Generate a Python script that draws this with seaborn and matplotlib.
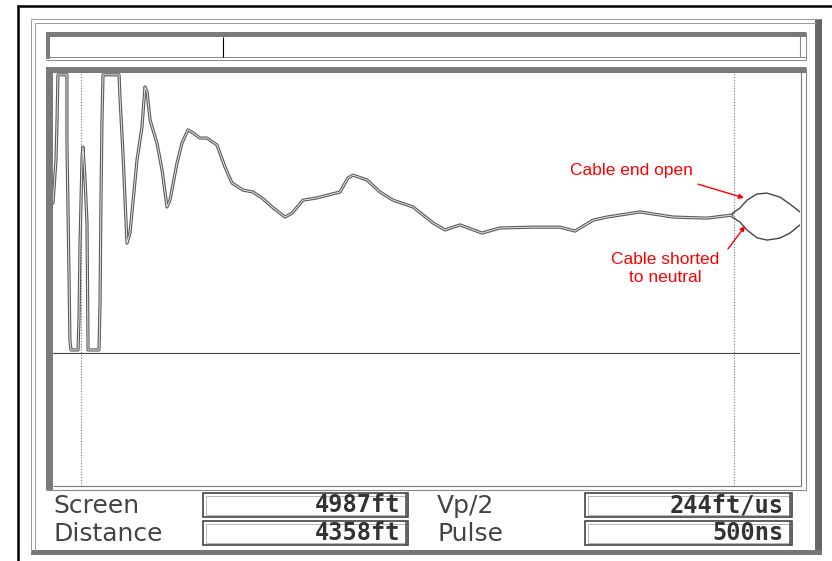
import numpy as np
import pandas as pd
import matplotlib
matplotlib.use('Agg')
import matplotlib.pyplot as plt
import seaborn as sns
from matplotlib.patches import Rectangle

sns.set_theme(style='white')
plt.rcParams['font.family'] = ['DejaVu Sans']

# ---------------- data ----------------
distance_ft = [0, 20, 27, 33, 93, 93, 107, 113, 120, 167, 174, 180, 194, 200, 214, 227, 234,
               307, 314, 320, 327, 334, 441, 447, 467, 481, 494, 514, 561, 594, 614, 628, 648,
               694, 728, 761, 781, 828, 861, 901, 935, 981, 1028, 1095, 1148, 1195, 1268, 1335,
               1395, 1462, 1549, 1596, 1669, 1762, 1916, 1969, 2003, 2096, 2183, 2270, 2403,
               2537, 2617, 2717, 2864, 2984, 3204, 3385, 3485, 3605, 3699, 3919, 4139, 4366, 4533]
amplitude = [53.4, 68.7, 82.9, 99, 99, 75.8, 27.0, 4.6, 1.1, 1.1, 12.8, 37.7, 69.8, 73.3, 61.6,
             46.3, 1.1, 1.1, 17.8, 53.4, 82.9, 99, 99, 91.1, 71.2, 54.4, 39.1, 42.7, 68.7, 80.4,
             94.7, 92.9, 82.9, 74.7, 65.1, 52.0, 54.4, 67.6, 74.7, 79.4, 78.3, 76.5, 76.5, 74.0,
             66.2, 60.5, 58.0, 57.3, 55.2, 52.0, 48.4, 49.8, 54.4, 55.2, 57.3, 62.3, 63.3, 61.6,
             57.3, 54.4, 52.0, 46.3, 43.8, 45.6, 42.7, 44.5, 44.8, 44.8, 43.4, 47.3, 48.4, 50.2,
             48.4, 48.0, 49.1]
end_ft = [4533, 4586, 4633, 4700, 4767, 4853, 4920, 4987]
end_open = [49.6, 51.6, 54.4, 56.6, 56.9, 55.5, 53.0, 50.2]
end_shorted = [48.4, 46.6, 43.8, 41.0, 40.2, 40.9, 42.7, 45.6]
cursor_ft = [187, 4545]

labels = ['Screen', 'Distance', 'Vp/2', 'Pulse']
values = ['4987ft', '4358ft', '244ft/us', '500ns']
note_open = 'Cable end open'
note_short = 'Cable shorted\nto neutral'

SCREEN_FT = 4987

# ---------------- figure ----------------
W, H = 832, 561
fig = plt.figure(figsize=(W / 100, H / 100), dpi=100)
fig.patch.set_facecolor('white')

bg = fig.add_axes([0, 0, 1, 1])
bg.set_xlim(0, W)
bg.set_ylim(H, 0)
bg.axis('off')

GR = '#7a7a7a'

def rect(x0, y0, x1, y1, fc=GR, ec='none', lw=0.0, z=1):
    bg.add_patch(Rectangle((x0, y0), x1 - x0, y1 - y0, facecolor=fc, edgecolor=ec, lw=lw, zorder=z))

def line(xs, ys, color='#888888', lw=0.7, z=2):
    bg.plot(xs, ys, color=color, lw=lw, zorder=z, solid_capstyle='butt')

# black outer frame
line([17, 832], [6, 6], color='black', lw=1.8)
line([18, 18], [5, 561], color='black', lw=1.8)

# screen bezel
line([31, 820], [19, 19], color='#999999', lw=0.7)
line([35, 816], [22.5, 22.5], color='#999999', lw=0.7)
line([31, 31], [19, 553], color='#999999', lw=0.7)
line([35, 35], [22.5, 550], color='#999999', lw=0.7)
rect(815, 19, 822, 555, fc='#666666')
rect(31, 550, 822, 555, fc='#777777')

# top bar
rect(46, 32, 806, 36.5)
rect(46, 32, 50, 59)
line([46, 806], [57, 57], color='#888888', lw=0.7)
line([46, 806], [59.5, 59.5], color='#888888', lw=0.7)
line([800, 800], [36, 57], color='#888888', lw=0.8)
line([806, 806], [32, 59.5], color='#888888', lw=0.8)
line([223, 223], [36.5, 57], color='black', lw=0.8)

# main screen frame
rect(46, 67, 806, 72.5)
rect(46, 67, 53, 490)
line([800.5, 800.5], [72, 486], color='#777777', lw=0.8)
line([806, 806], [67, 490], color='#888888', lw=0.8)
line([53, 800.5], [486, 486], color='#777777', lw=0.8)
line([46, 806], [490, 490], color='#888888', lw=0.8)

# ---------------- waveform axes ----------------
ax = fig.add_axes([53 / W, 1 - 486 / H, 747 / W, 414 / H])
ax.set_facecolor('none')
for s in ax.spines.values():
    s.set_visible(False)
ax.set_xlim(0, SCREEN_FT)
ax.set_ylim(-47.3, 100.0)
ax.set_xticks([])
ax.set_yticks([])

ax.axhline(0, color='#444444', lw=0.8, zorder=1)
for c in cursor_ft:
    ax.axvline(c, color='#777777', lw=0.8, ls=(0, (1, 1.5)), zorder=1)

common = pd.DataFrame({'ft': distance_ft, 'amp': amplitude})
sns.lineplot(data=common, x='ft', y='amp', sort=False, estimator=None, ax=ax,
             color='#5a5a5a', lw=2.3, zorder=3)
sns.lineplot(data=common, x='ft', y='amp', sort=False, estimator=None, ax=ax,
             color='#e6e6e6', lw=0.7, zorder=4)
ends = pd.DataFrame({'ft': end_ft + end_ft,
                     'amp': end_open + end_shorted,
                     'case': ['open'] * len(end_ft) + ['shorted'] * len(end_ft)})
sns.lineplot(data=ends, x='ft', y='amp', units='case', sort=False, estimator=None, ax=ax,
             color='#444444', lw=1.0, zorder=3)
ax.set_xlabel('')
ax.set_ylabel('')

red = '#ff0000'
afont = ['Liberation Sans', 'DejaVu Sans']
ax.text(3865, 64.8, note_open, color=red, fontsize=12.5, family=afont,
        ha='center', va='center', zorder=6)
ax.text(4086, 30.2, note_short, color=red, fontsize=12.5, family=afont,
        ha='center', va='center', linespacing=1.25, zorder=6)
arrow = dict(arrowstyle='-|>', color=red, lw=1.0, mutation_scale=7, shrinkA=0, shrinkB=0)
ax.annotate('', xy=(4613, 55.2), xytext=(4306, 60.1), arrowprops=arrow, zorder=6)
ax.annotate('', xy=(4620, 45.2), xytext=(4506, 37.0), arrowprops=arrow, zorder=6)

# ---------------- info panel ----------------
label_pos = [(53, 506), (53, 534), (437, 506), (437, 534)]
box_pos = [(203, 493, 408, 517), (203, 521, 408, 545), (585, 493, 792, 517), (585, 521, 792, 545)]
for lab, (lx, ly) in zip(labels, label_pos):
    bg.text(lx, ly, lab, ha='left', va='center', fontsize=18, color='#444444',
            family=['DejaVu Sans'], zorder=5)
for val, (x0, y0, x1, y1) in zip(values, box_pos):
    bg.add_patch(Rectangle((x0, y0), x1 - x0, y1 - y0, facecolor='white',
                           edgecolor='#333333', lw=1.1, zorder=3))
    bg.add_patch(Rectangle((x0 + 2.5, y0 + 2.5), x1 - x0 - 5, y1 - y0 - 5, facecolor='none',
                           edgecolor='#999999', lw=0.5, zorder=3))
    line([x1 - 2, x1 - 2], [y0, y1], color='#555555', lw=1.2, z=4)
    bg.text(x1 - 8, (y0 + y1) / 2 + 0.5, val, ha='right', va='center', fontsize=17,
            fontweight='bold', family=['DejaVu Sans Mono'], color='#333333', zorder=5)

fig.savefig('out.png', dpi=100)
